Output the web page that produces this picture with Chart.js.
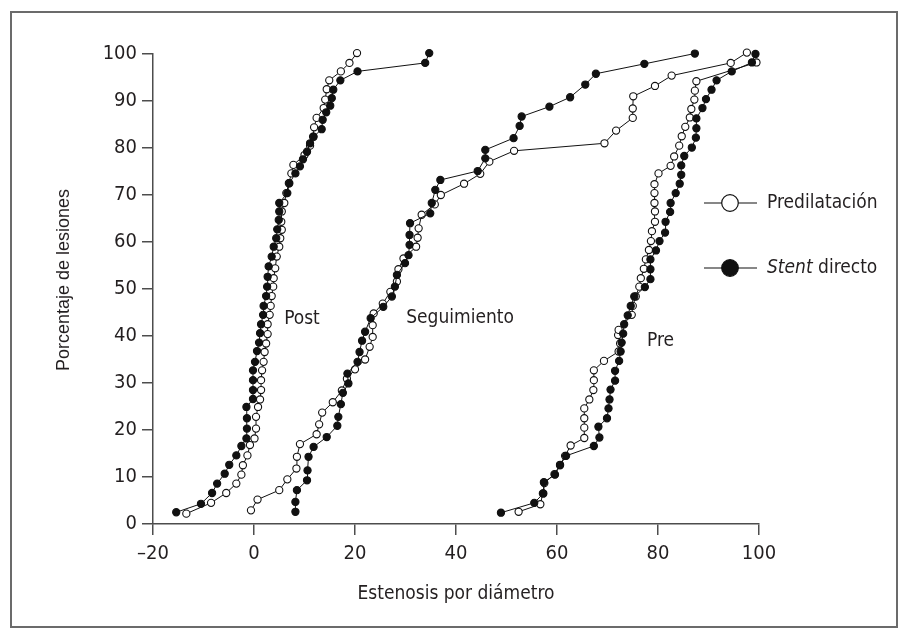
<!DOCTYPE html>
<html>
<head>
<meta charset="utf-8">
<script src="https://cdn.jsdelivr.net/npm/chart.js@4/dist/chart.umd.min.js"></script>
<style>
  html, body { margin: 0; padding: 0; background: #fff; }
  canvas { display: block; }
</style>
</head>
<body>
<canvas id="chart" width="908" height="635"></canvas>
<script>
// [estenosis %, porcentaje acumulado de lesiones]
const postStent = [[-15.4,2.5],[-10.5,4.3],[-8.3,6.6],[-7.3,8.6],[-5.8,10.7],[-4.9,12.6],[-3.5,14.6],[-2.5,16.6],[-1.5,18.2],[-1.4,20.3],[-1.4,22.5],[-1.5,24.9],[-0.2,26.6],[-0.2,28.5],[-0.2,30.6],[-0.2,32.7],[0.2,34.5],[0.6,36.8],[1.0,38.6],[1.2,40.6],[1.4,42.5],[1.8,44.5],[1.9,46.4],[2.4,48.5],[2.6,50.5],[2.7,52.6],[2.9,54.8],[3.5,56.9],[3.9,59.0],[4.4,60.8],[4.6,62.7],[4.9,64.7],[5.0,66.5],[5.0,68.3],[6.6,70.4],[7.0,72.5],[8.2,74.6],[9.1,76.1],[9.7,77.6],[10.5,79.2],[11.1,81.0],[11.8,82.4],[13.4,84.0],[13.6,86.0],[14.3,87.6],[15.1,89.0],[15.4,90.6],[15.7,92.4],[17.1,94.4],[20.5,96.3],[33.9,98.1],[34.7,100.2]];
const postPredil = [[-13.4,2.2],[-8.5,4.5],[-5.5,6.6],[-3.5,8.6],[-2.5,10.5],[-2.2,12.5],[-1.3,14.6],[-0.8,16.8],[0.1,18.2],[0.4,20.3],[0.4,22.8],[0.8,24.9],[1.2,26.5],[1.4,28.5],[1.4,30.6],[1.6,32.7],[1.9,34.5],[2.1,36.6],[2.4,38.4],[2.7,40.4],[2.7,42.5],[3.1,44.5],[3.3,46.4],[3.5,48.5],[3.8,50.5],[3.9,52.3],[4.2,54.4],[4.5,56.9],[5.0,59.0],[5.2,60.8],[5.5,62.6],[5.4,64.3],[5.5,66.5],[6.0,68.3],[6.4,70.4],[6.9,72.5],[7.4,74.6],[7.8,76.4],[10.0,78.5],[11.1,80.5],[11.7,82.4],[11.9,84.4],[12.4,86.4],[13.8,88.5],[14.1,90.3],[14.4,92.5],[14.9,94.4],[17.2,96.3],[18.9,98.1],[20.4,100.2]];

const segStent = [[8.2,2.6],[8.2,4.7],[8.5,7.2],[10.5,9.3],[10.6,11.4],[10.8,14.3],[11.8,16.4],[14.4,18.5],[16.5,20.9],[16.7,22.8],[17.2,25.5],[17.6,27.9],[18.7,29.9],[18.5,32.0],[20.5,34.5],[20.9,36.6],[21.4,39.0],[22.0,40.9],[23.1,43.8],[25.6,46.2],[27.3,48.4],[27.9,50.5],[28.3,53.0],[29.9,55.5],[30.6,57.2],[30.8,59.4],[30.8,61.5],[30.9,64.0],[34.9,66.1],[35.2,68.3],[35.9,71.1],[36.9,73.2],[44.3,75.1],[45.8,77.8],[45.8,79.6],[51.4,82.1],[52.6,84.7],[53.0,86.7],[58.5,88.8],[62.6,90.8],[65.6,93.5],[67.7,95.8],[77.3,97.9],[87.3,100.1]];
const segPredil = [[-0.6,2.9],[0.7,5.2],[5.0,7.2],[6.6,9.5],[8.4,11.8],[8.5,14.3],[9.1,17.0],[12.4,19.1],[12.9,21.2],[13.5,23.7],[15.6,25.9],[17.4,28.4],[18.4,30.9],[20.0,32.9],[22.0,35.0],[22.9,37.7],[23.5,39.8],[23.5,42.3],[23.7,44.8],[25.5,46.9],[27.0,49.4],[28.3,51.6],[28.6,54.2],[29.6,56.5],[32.1,59.0],[32.4,60.9],[32.6,62.9],[33.2,65.8],[35.8,68.0],[37.0,70.0],[41.6,72.4],[44.8,74.5],[46.6,77.1],[51.5,79.4],[69.4,81.0],[71.7,83.7],[75.0,86.4],[75.0,88.4],[75.1,91.0],[79.4,93.2],[82.7,95.4],[94.4,98.1],[97.6,100.3]];

const preStent = [[48.9,2.4],[55.5,4.5],[57.3,6.5],[57.4,8.9],[59.6,10.5],[60.6,12.5],[61.8,14.5],[67.3,16.6],[68.4,18.4],[68.2,20.7],[69.9,22.5],[70.2,24.6],[70.4,26.5],[70.6,28.6],[71.5,30.5],[71.5,32.6],[72.3,34.7],[72.6,36.7],[72.8,38.6],[73.1,40.5],[73.3,42.5],[74.0,44.4],[74.6,46.4],[75.3,48.4],[77.4,50.4],[78.5,52.1],[78.5,54.2],[78.5,56.3],[79.6,58.2],[80.3,60.2],[81.4,62.0],[81.5,64.3],[82.4,66.4],[82.5,68.3],[83.5,70.4],[84.3,72.4],[84.6,74.3],[84.6,76.3],[85.2,78.3],[86.7,80.1],[87.5,82.2],[87.6,84.2],[87.6,86.3],[88.8,88.5],[89.5,90.4],[90.6,92.4],[91.6,94.4],[94.6,96.3],[98.6,98.2],[99.3,100.0]];
const prePredil = [[52.4,2.6],[56.7,4.2],[57.2,6.5],[57.5,8.7],[59.5,10.6],[60.6,12.6],[61.6,14.5],[62.7,16.7],[65.4,18.3],[65.4,20.5],[65.4,22.5],[65.4,24.6],[66.4,26.5],[67.2,28.5],[67.3,30.6],[67.3,32.7],[69.3,34.7],[72.2,36.7],[72.5,38.4],[72.1,40.2],[72.2,41.3],[74.8,44.5],[75.0,46.4],[75.6,48.4],[76.3,50.5],[76.6,52.3],[77.2,54.3],[77.6,56.3],[78.2,58.3],[78.6,60.2],[78.8,62.3],[79.4,64.3],[79.4,66.5],[79.3,68.3],[79.3,70.4],[79.3,72.3],[80.1,74.6],[82.5,76.2],[83.2,78.2],[84.2,80.5],[84.7,82.5],[85.4,84.5],[86.3,86.5],[86.6,88.3],[87.2,90.3],[87.3,92.2],[87.6,94.2],[99.5,98.2]];

const groupLabels = [
  { text: 'Post', x: 9.5, y: 43.6 },
  { text: 'Seguimiento', x: 40.8, y: 43.9 },
  { text: 'Pre', x: 80.5, y: 38.9 }
];
const seriesNames = ['Predilatación', 'Stent directo'];
const yTitle = 'Porcentaje de lesiones';

const NARROW = "'Liberation Sans Narrow', 'DejaVu Sans Condensed', sans-serif";
const INK = '#231f20';
const AXIS = '#4d4d4d';

const toXY = arr => arr.map(([x, y]) => ({ x, y }));

function series(data, filled) {
  return {
    data: toXY(data),
    showLine: true,
    borderColor: '#111',
    borderWidth: 1,
    pointRadius: 3.6,
    pointBorderWidth: 1.1,
    pointBorderColor: '#111',
    pointBackgroundColor: filled ? '#111' : '#fff',
    clip: false
  };
}

const framePlugin = {
  id: 'frame',
  beforeDraw(chart) {
    const ctx = chart.ctx;
    ctx.save();
    ctx.fillStyle = '#fff';
    ctx.fillRect(0, 0, chart.width, chart.height);
    ctx.strokeStyle = '#6b6b6b';
    ctx.lineWidth = 2;
    ctx.strokeRect(11, 12, 886, 615);
    // titulo del eje y
    ctx.translate(64, 280);
    ctx.rotate(-Math.PI / 2);
    ctx.fillStyle = INK;
    ctx.font = "18px 'Liberation Sans', Arial, sans-serif";
    ctx.textAlign = 'center';
    ctx.textBaseline = 'middle';
    ctx.fillText(yTitle, 0, 0);
    ctx.restore();
  }
};

const textPlugin = {
  id: 'groupText',
  afterDatasetsDraw(chart) {
    const { ctx, scales: { x, y } } = chart;
    ctx.save();
    ctx.fillStyle = INK;
    ctx.font = '19px ' + NARROW;
    ctx.textAlign = 'center';
    ctx.textBaseline = 'middle';
    groupLabels.forEach(l => ctx.fillText(l.text, x.getPixelForValue(l.x), y.getPixelForValue(l.y)));
    ctx.restore();
  }
};

const legendPlugin = {
  id: 'sideLegend',
  afterDatasetsDraw(chart) {
    const ctx = chart.ctx;
    const rows = [
      { y: 203, fill: '#fff' },
      { y: 268, fill: '#111' }
    ];
    ctx.save();
    rows.forEach((r, i) => {
      ctx.strokeStyle = '#111';
      ctx.lineWidth = 1.2;
      ctx.beginPath();
      ctx.moveTo(704, r.y);
      ctx.lineTo(757, r.y);
      ctx.stroke();
      ctx.beginPath();
      ctx.arc(730, r.y, 8.3, 0, Math.PI * 2);
      ctx.fillStyle = r.fill;
      ctx.fill();
      ctx.stroke();

      ctx.fillStyle = INK;
      ctx.textBaseline = 'middle';
      ctx.textAlign = 'left';
      if (i === 0) {
        ctx.font = '19px ' + NARROW;
        ctx.fillText(seriesNames[0], 767, r.y);
      } else {
        const [first, ...rest] = seriesNames[1].split(' ');
        ctx.font = 'italic 19px ' + NARROW;
        ctx.fillText(first, 767, r.y);
        const w = ctx.measureText(first + ' ').width;
        ctx.font = '19px ' + NARROW;
        ctx.fillText(rest.join(' '), 767 + w, r.y);
      }
    });
    ctx.restore();
  }
};

new Chart(document.getElementById('chart'), {
  type: 'scatter',
  data: {
    datasets: [
      series(postStent, true),
      series(segStent, true),
      series(preStent, true),
      series(postPredil, false),
      series(segPredil, false),
      series(prePredil, false)
    ]
  },
  options: {
    responsive: false,
    animation: false,
    layout: { padding: { top: 54, right: 149, left: 0, bottom: 0 } },
    plugins: {
      legend: { display: false },
      tooltip: { enabled: false }
    },
    scales: {
      x: {
        type: 'linear',
        min: -20,
        max: 100,
        afterFit: s => { s.height = 111; },
        ticks: {
          stepSize: 20,
          padding: 7,
          color: INK,
          font: { family: NARROW, size: 20 },
          callback: v => v < 0 ? '\u2013' + Math.abs(v) : String(v)
        },
        grid: { drawOnChartArea: false, tickLength: 11, color: AXIS, lineWidth: 1.5 },
        border: { color: AXIS, width: 1.5 },
        title: {
          display: true,
          text: 'Estenosis por diámetro',
          color: INK,
          font: { family: NARROW, size: 19 },
          padding: { top: 0, bottom: 30 }
        }
      },
      y: {
        min: 0,
        max: 100,
        afterFit: s => { s.width = 153; },
        ticks: {
          stepSize: 10,
          padding: 5,
          color: INK,
          font: { family: NARROW, size: 20 }
        },
        grid: { drawOnChartArea: false, tickLength: 11, color: AXIS, lineWidth: 1.5 },
        border: { color: AXIS, width: 1.5 },
        title: { display: false }
      }
    }
  },
  plugins: [framePlugin, textPlugin, legendPlugin]
});
</script>
</body>
</html>
